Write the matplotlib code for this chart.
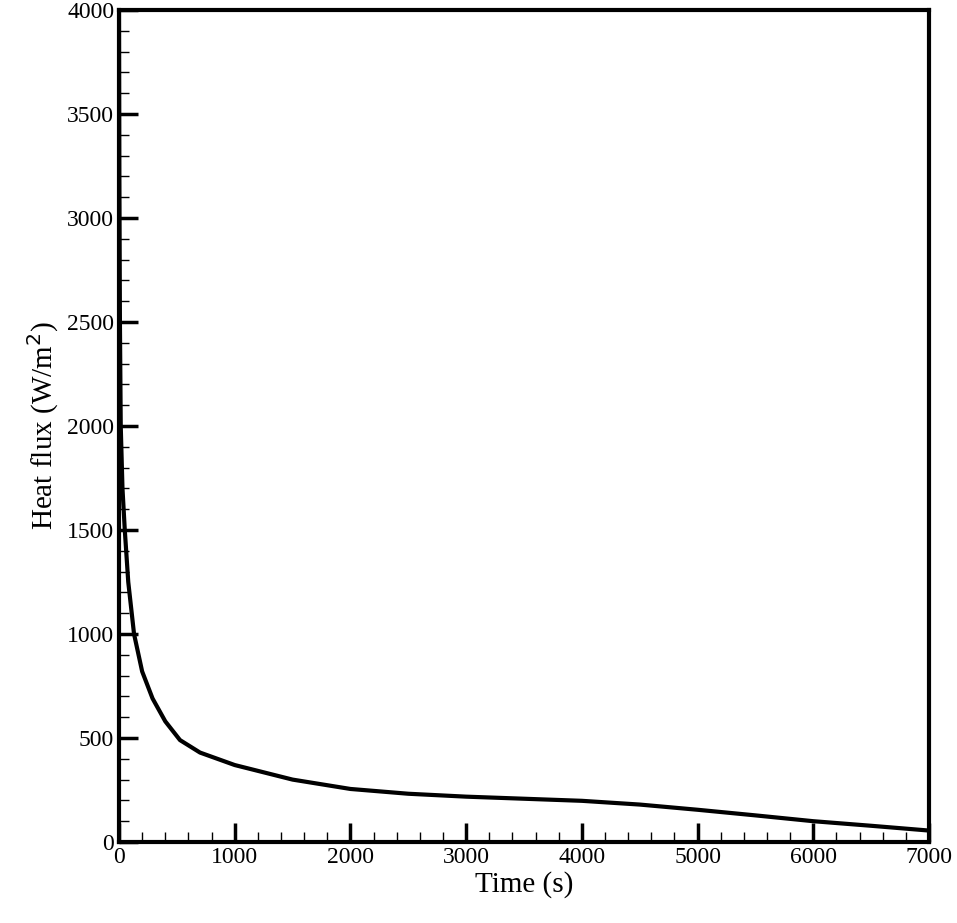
import matplotlib
matplotlib.use("Agg")
import matplotlib.pyplot as plt
from matplotlib.ticker import MultipleLocator
import numpy as np

time_s = [0, 3, 8, 15, 30, 50, 80, 130, 200, 290, 400, 527, 700, 1000, 1500, 2000, 2500, 3000, 3500, 4000, 4500, 5000, 5500, 6000, 6500, 7000]
heat_flux = [4000, 3200, 2500, 2000, 1700, 1500, 1250, 1000, 820, 690, 580, 490, 430, 370, 300, 255, 232, 218, 208, 198, 180, 155, 128, 100, 78, 55]

plt.rcParams['font.family'] = ['Liberation Serif', 'DejaVu Serif']
fig = plt.figure(figsize=(9.57, 9.23), dpi=100)
ax = fig.add_axes([119/957, 81/923, 810/957, 832/923])
ax.plot(time_s, heat_flux, color='black', lw=3)
ax.set_xlim(0, 7000)
ax.set_ylim(0, 4000)
ax.xaxis.set_major_locator(MultipleLocator(1000))
ax.xaxis.set_minor_locator(MultipleLocator(200))
ax.yaxis.set_major_locator(MultipleLocator(500))
ax.yaxis.set_minor_locator(MultipleLocator(100))
ax.tick_params(which='both', direction='in', top=False, right=False, labelsize=17, color='black')
ax.tick_params(which='major', length=14, width=2.5)
ax.tick_params(which='minor', length=7, width=1)
for s in ax.spines.values():
    s.set_linewidth(3)
ax.set_xlabel('Time (s)', fontsize=21, labelpad=2)
ax.set_ylabel('Heat flux (W/m$^2$)', fontsize=21, labelpad=4)
fig.savefig('out.png', dpi=100)
